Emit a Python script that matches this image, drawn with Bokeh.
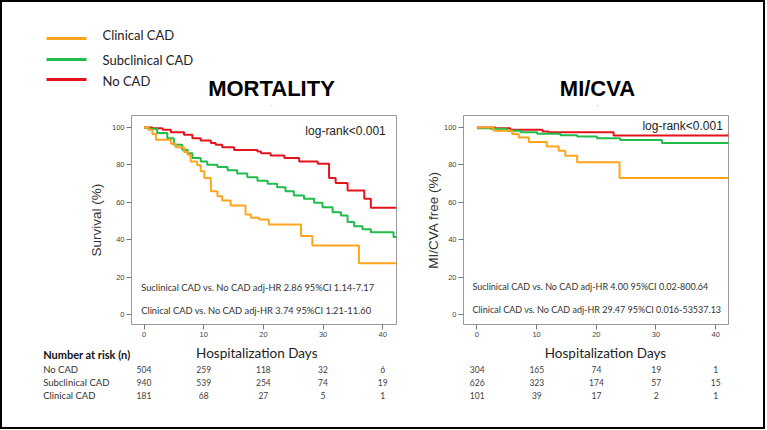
from bokeh.plotting import figure
from bokeh.models import Range1d, FixedTicker
from bokeh.layouts import column, row
from bokeh.core.properties import value
from bokeh.embed import file_html
from bokeh.resources import INLINE

# ---------------- data ----------------
groups = ["Clinical CAD", "Subclinical CAD", "No CAD"]
group_colors = ["#FFA41B", "#21BC4C", "#E3141B"]

# Mortality (Kaplan-Meier)
mort_nocad_days = [0, 1.4, 3.1, 4.5, 6.7, 8.1, 9.5, 11.2, 12.0, 13.1, 15.1, 19.0, 19.6, 21.2, 23.5, 26.0, 29.1, 31.0, 32.1, 34.1, 36.9, 38.0, 42.3]
mort_nocad_surv = [100, 99.6, 98.8, 97.5, 96.1, 94.3, 93.1, 91.7, 90.8, 89.4, 88.0, 87.2, 86.3, 85.1, 83.7, 81.9, 80.7, 73.0, 70.4, 66.3, 62.0, 57.1, 57.1]

mort_sub_days = [0, 0.6, 2.2, 3.9, 5.0, 6.4, 7.3, 8.1, 9.5, 10.6, 12.3, 14.0, 15.6, 17.3, 19.0, 20.7, 22.3, 23.7, 25.1, 26.8, 28.5, 29.9, 31.6, 33.0, 34.1, 35.2, 36.6, 38.0, 41.8, 42.3]
mort_sub_surv = [100, 99.3, 97.0, 94.3, 90.8, 88.1, 86.3, 83.7, 81.9, 80.1, 78.9, 77.1, 75.4, 73.4, 71.6, 69.9, 68.1, 66.0, 63.7, 62.0, 59.8, 57.4, 54.8, 53.0, 49.5, 47.3, 45.6, 44.0, 41.5, 41.5]

mort_clin_days = [0, 0.8, 1.4, 2.0, 4.5, 5.3, 6.7, 7.3, 7.8, 8.9, 9.5, 10.1, 11.2, 12.3, 13.1, 14.5, 17.0, 17.9, 19.3, 20.9, 26.3, 28.2, 36.0, 42.3]
mort_clin_surv = [100, 98.8, 96.5, 93.4, 91.3, 89.5, 86.9, 85.5, 81.9, 79.8, 76.6, 73.0, 66.0, 63.3, 61.0, 58.3, 53.5, 51.8, 50.9, 48.2, 42.0, 37.0, 27.5, 27.5]

# MI/CVA free
mi_nocad_days = [0, 3.1, 5.6, 11.0, 12.0, 22.9, 42.2]
mi_nocad_surv = [100, 99.6, 98.8, 97.9, 97.5, 95.7, 95.7]

mi_sub_days = [0, 2.2, 5.0, 7.3, 10.1, 14.0, 16.8, 20.1, 24.0, 31.0, 42.2]
mi_sub_surv = [99.6, 99.3, 98.2, 97.5, 96.6, 95.9, 95.2, 94.3, 93.3, 91.7, 91.7]

mi_clin_days = [0, 2.8, 5.9, 7.0, 8.7, 11.7, 13.7, 14.8, 16.8, 23.9, 42.2]
mi_clin_surv = [100, 98.2, 96.5, 94.7, 92.2, 89.9, 87.6, 84.9, 81.4, 73.0, 73.0]

# Number at risk
risk_days = [0, 10, 20, 30, 40]
risk_rows = ["No CAD", "Subclinical CAD", "Clinical CAD"]
mort_risk_nocad = [504, 259, 118, 32, 6]
mort_risk_sub = [940, 539, 254, 74, 19]
mort_risk_clin = [181, 68, 27, 5, 1]
mi_risk_nocad = [304, 165, 74, 19, 1]
mi_risk_sub = [626, 323, 174, 57, 15]
mi_risk_clin = [101, 39, 17, 2, 1]

x_ticks = [0, 10, 20, 30, 40]
y_ticks = [0, 20, 40, 60, 80, 100]

titles = ["MORTALITY", "MI/CVA"]
y_labels = ["Survival (%)", "MI/CVA free (%)"]
x_label = "Hospitalization Days"
logrank = "log-rank<0.001"
mort_stats = ["Suclinical CAD vs. No CAD adj-HR 2.86 95%CI 1.14-7.17",
              "Clinical CAD vs. No CAD adj-HR 3.74 95%CI 1.21-11.60"]
mi_stats = ["Suclinical CAD vs. No CAD adj-HR 4.00 95%CI 0.02-800.64",
            "Clinical CAD vs. No CAD adj-HR 29.47 95%CI 0.016-53537.13"]

ARIAL = value("Liberation Sans")
CAL = value("Lato")


def panel(width, bl, br, xr, ylab, curves, lr_xy, stats, stats_x, stats_y, stats_size, ylab_standoff):
    p = figure(width=width, height=228, x_range=Range1d(*xr), y_range=Range1d(-5.2, 106.4),
               output_backend="svg", toolbar_location=None,
               min_border_left=bl, min_border_right=br, min_border_top=0, min_border_bottom=19)
    p.grid.visible = False
    p.outline_line_color = "#9a9a9a"
    p.outline_line_width = 1
    p.background_fill_color = "white"
    p.border_fill_color = "white"
    for ax in (p.xaxis[0], p.yaxis[0]):
        ax.axis_line_color = None
        ax.major_tick_line_color = "#777777"
        ax.major_tick_out = 5
        ax.major_tick_in = 0
        ax.minor_tick_out = 0
        ax.minor_tick_in = 0
        ax.major_label_text_font = "Liberation Sans"
        ax.major_label_text_font_size = "7.5px"
        ax.major_label_text_color = "#444444"
        ax.major_label_standoff = 2
    p.xaxis.ticker = FixedTicker(ticks=x_ticks)
    p.yaxis.ticker = FixedTicker(ticks=y_ticks)
    p.yaxis.axis_label = ylab
    p.yaxis.axis_label_text_font = "Liberation Sans"
    p.yaxis.axis_label_text_font_style = "normal"
    p.yaxis.axis_label_text_font_size = "13.5px"
    p.yaxis.axis_label_text_color = "#333333"
    p.yaxis.axis_label_standoff = ylab_standoff
    for (xs, ys), c in curves:
        p.step(xs, ys, mode="after", line_width=2, line_color=c)
    p.text(x=[lr_xy[0]], y=[lr_xy[1]], text=[logrank], text_align="right", text_baseline="middle",
           text_font=ARIAL, text_font_size="12px", text_color="#222222")
    p.text(x=[stats_x, stats_x], y=stats_y, text=stats, text_align="left", text_baseline="middle",
           text_font=CAL, text_font_size=stats_size, text_color="#333333")
    return p


left = panel(413, 129, 19, (-2.1, 42.3), y_labels[0],
             [((mort_nocad_days, mort_nocad_surv), group_colors[2]),
              ((mort_sub_days, mort_sub_surv), group_colors[1]),
              ((mort_clin_days, mort_clin_surv), group_colors[0])],
             (40.5, 97.9), mort_stats, -0.47, [14.6, 2.3], "9.3px", 5)
right = panel(348, 48, 35, (-2.25, 42.15), y_labels[1],
              [((mi_nocad_days, mi_nocad_surv), group_colors[2]),
               ((mi_sub_days, mi_sub_surv), group_colors[1]),
               ((mi_clin_days, mi_clin_surv), group_colors[0])],
              (41.2, 100.6), mi_stats, -0.75, [15.1, 2.8], "9.0px", 0)


def table(width, xr, rows, xlab_x, with_names):
    t = figure(width=width, height=84, x_range=Range1d(*xr), y_range=Range1d(427, 343),
               output_backend="svg", toolbar_location=None, x_axis_type=None, y_axis_type=None,
               min_border=0)
    t.grid.visible = False
    t.outline_line_color = None
    t.text(x=[xlab_x], y=[352], text=[x_label], text_align="center", text_baseline="middle",
           text_font=CAL, text_font_size="13.5px", text_color="#222222")
    row_y = [369.3, 382.3, 395.0]
    for vals, yy in zip(rows, row_y):
        t.text(x=risk_days, y=[yy] * len(vals), text=[str(v) for v in vals], text_align="center",
               text_baseline="middle", text_font=CAL, text_font_size="8.5px", text_color="#404040")
    if with_names:
        t.text(x=[-16.9], y=[354], text=["Number at risk (n)"], text_align="left", text_baseline="middle",
               text_font=CAL, text_font_size="11px", text_font_style="bold", text_color="#111111")
        t.text(x=[-16.9] * 3, y=row_y, text=risk_rows, text_align="left", text_baseline="middle",
               text_font=CAL, text_font_size="9.5px", text_color="#333333")
    return t


ltab = table(413, (-23.71, 45.49), [mort_risk_nocad, mort_risk_sub, mort_risk_clin], 18.9, True)
rtab = table(348, (-10.34, 48.0), [mi_risk_nocad, mi_risk_sub, mi_risk_clin], 21.5, False)

top = figure(width=761, height=113, x_range=Range1d(2, 763), y_range=Range1d(115, 2),
             output_backend="svg", toolbar_location=None, x_axis_type=None, y_axis_type=None,
             min_border=0)
top.grid.visible = False
top.outline_line_color = None
leg_y_line = [38, 59, 79]
leg_y_text = [34, 59, 80]
for g, c, yl, yt in zip(groups, group_colors, leg_y_line, leg_y_text):
    top.line([46, 86], [yl, yl], line_color=c, line_width=3)
    top.text(x=[102], y=[yt], text=[g], text_baseline="middle", text_font=CAL,
             text_font_size="13px", text_color="#222222")
top.text(x=[271, 597], y=[88, 88], text=titles, text_align="center", text_baseline="middle",
         text_font=ARIAL, text_font_size="22px", text_font_style="bold", text_color="#000000")
top.text(x=[271, 597], y=[104, 104], text=["-", "-"], text_align="center", text_baseline="middle",
         text_font=ARIAL, text_font_size="7px", text_color="#bbbbbb")

layout = column(top, row(left, right), row(ltab, rtab),
                styles={"border": "2px solid black"})

open("out.html", "w").write(file_html(layout, INLINE))
